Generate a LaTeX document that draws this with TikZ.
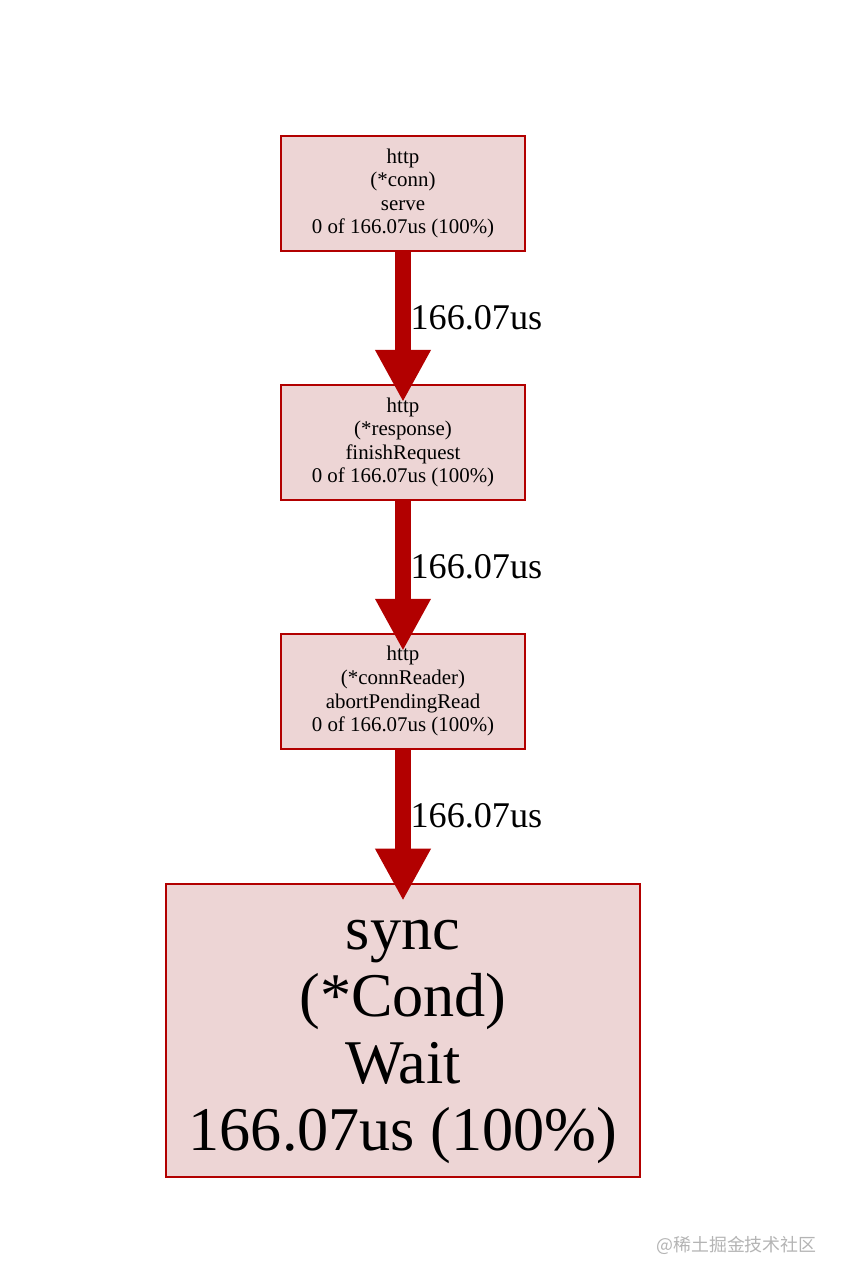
\documentclass[tikz,border=0pt]{standalone}
\usepackage{fontspec}
\setmainfont{Liberation Serif}
\newfontfamily\cjk{Noto Sans CJK SC}
\usetikzlibrary{positioning,arrows.meta}
\definecolor{edgered}{HTML}{B20000}
\definecolor{boxfill}{HTML}{EDD5D5}
\definecolor{markgray}{HTML}{B4B4B4}
\tikzset{
  fn/.style={draw=edgered, fill=boxfill, line width=1.14pt, minimum width=138.9pt,
    minimum height=65.4pt, inner sep=0pt, align=center,
    font=\fontsize{11.9}{13.4}\selectfont},
  leaf/.style={fn, minimum width=269.8pt, minimum height=166.7pt,
    font=\fontsize{35.4}{38.1}\selectfont},
  call/.style={draw=edgered, line width=9.1pt,
    -{Triangle[width=31.9pt,length=29pt,line width=0pt]}},
  cost/.style={right, inner sep=4.3pt, outer sep=0pt, font=\fontsize{20.6}{24}\selectfont}
}
\begin{document}
\begin{tikzpicture}[x=0.02cm, y=-0.02cm]
  \useasboundingbox (0,0) rectangle (841,1282);
  % call chain
  \node[fn] (serve) at (403,193.5) {http\\(*conn)\\serve\\0 of 166.07us (100\%)};
  \node[fn, below=2.64cm of serve] (finish) {http\\(*response)\\finishRequest\\0 of 166.07us (100\%)};
  \node[fn, below=2.64cm of finish] (abort) {http\\(*connReader)\\abortPendingRead\\0 of 166.07us (100\%)};
  \node[leaf, below=2.66cm of abort] (wait) {\rule{0pt}{0.84em}sync\\(*Cond)\\Wait\\166.07us (100\%)};
  % edges
  \draw[call] (serve.south) -- ([yshift=-0.34cm]finish.north) node[cost, pos=0.44] (c1) {166.07us};
  \draw[call] (finish.south) -- ([yshift=-0.34cm]abort.north) node[cost, pos=0.44] (c2) {166.07us};
  \draw[call] (abort.south) -- ([yshift=-0.34cm]wait.north) node[cost, pos=0.44] (c3) {166.07us};
  % watermark
  \node[anchor=west, text=markgray, inner sep=0pt, font=\cjk\fontsize{10.2}{12}\selectfont] (mark) at (656,1245) {@稀土掘金技术社区};
\end{tikzpicture}
\end{document}
